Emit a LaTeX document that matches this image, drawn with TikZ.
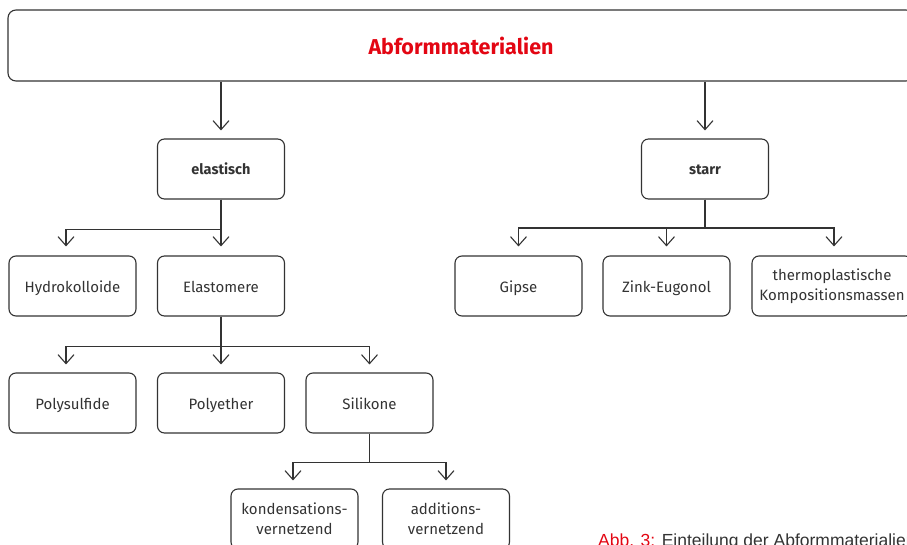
\documentclass[tikz,border=0pt]{standalone}
\usepackage{fontspec}
\setmainfont{Fira Sans}
\newfontfamily\captionfont{Liberation Sans}
\usepackage{tikz}
\usetikzlibrary{arrows.meta}
\usepackage{xcolor}

\definecolor{linegray}{HTML}{333333}
\definecolor{abbred}{HTML}{E30613}

\tikzset{
  box/.style={draw=linegray, line width=1.1pt, rounded corners=7pt,
    minimum width=127pt, minimum height=60pt, align=center,
    text=linegray, font=\fontsize{15}{20}\selectfont},
  onebox/.style={box, text height=12pt, text depth=0pt},
  head/.style={onebox, font=\fontsize{14.5}{20}\selectfont\bfseries},
  link/.style={draw=linegray, line width=1.1pt,
    -{Straight Barb[length=9pt,width=16pt,line width=1.1pt]}}
}

\begin{document}
\begin{tikzpicture}[x=1pt,y=-1pt]
\useasboundingbox (0,0) rectangle (907,545);
\clip (0,0) rectangle (907,545);

% top
\node[box, minimum width=906pt, minimum height=71pt, rounded corners=8pt,
  font=\fontsize{21.5}{24}\selectfont\bfseries, text=abbred] (abform) at (461,45.5) {Abformmaterialien};

% level 1
\node[head] (elastisch) at (221,169) {elastisch};
\node[head] (starr) at (705,169) {starr};

% level 2
\node[onebox] (hydro) at (72.5,286) {Hydrokolloide};
\node[onebox] (elastomere) at (221,286) {Elastomere};
\node[onebox] (gipse) at (518.5,286) {Gipse};
\node[onebox] (zink) at (666.5,286) {Zink-Eugonol};
\node[box, minimum width=160pt] (thermo) at (832,286) {thermoplastische\\Kompositionsmassen};

% level 3
\node[onebox] (polysulfide) at (72.5,403) {Polysulfide};
\node[onebox] (polyether) at (221,403) {Polyether};
\node[onebox] (silikone) at (369.5,403) {Silikone};

% level 4
\node[box] (kondens) at (294.5,519) {kondensations-\\vernetzend};
\node[box] (additions) at (446,519) {additions-\\vernetzend};

\draw[link] (abform.south -| elastisch.north) -- ([yshift=8pt]elastisch.north);
\draw[link] (abform.south -| starr.north) -- ([yshift=8pt]starr.north);

\draw[link] (elastisch.south) -- ++(0,30) -| ([xshift=-6.5pt,yshift=9pt]hydro.north);
\draw[link] (elastisch.south) -- ([yshift=9pt]elastomere.north);

\draw[link] (starr.south) -- ++(0,28.5) -| ([yshift=9pt]gipse.north);
\draw[link] (starr.south) -- ++(0,28.5) -| ([xshift=2pt,yshift=9pt]thermo.north);
\draw[link] (starr.south) ++(0,28.5) -| ([yshift=9pt]zink.north);

\draw[link] (elastomere.south) -- ++(0,30) -| ([xshift=-6.5pt,yshift=8pt]polysulfide.north);
\draw[link] (elastomere.south) -- ([yshift=8pt]polyether.north);
\draw[link] (elastomere.south) ++(0,30) -| ([yshift=8pt]silikone.north);

\draw[link] (silikone.south) -- ++(0,29) -| ([xshift=-1.5pt,yshift=8pt]kondens.north);
\draw[link] (silikone.south) ++(0,29) -| ([yshift=8pt]additions.north);

\node[anchor=base west, inner sep=0pt, font=\captionfont\fontsize{17.5}{20}\selectfont] (caption) at (598,546.5)
  {\textcolor{abbred}{Abb. 3:} \textcolor{linegray}{Einteilung der Abformmaterialien}};
\end{tikzpicture}
\end{document}
